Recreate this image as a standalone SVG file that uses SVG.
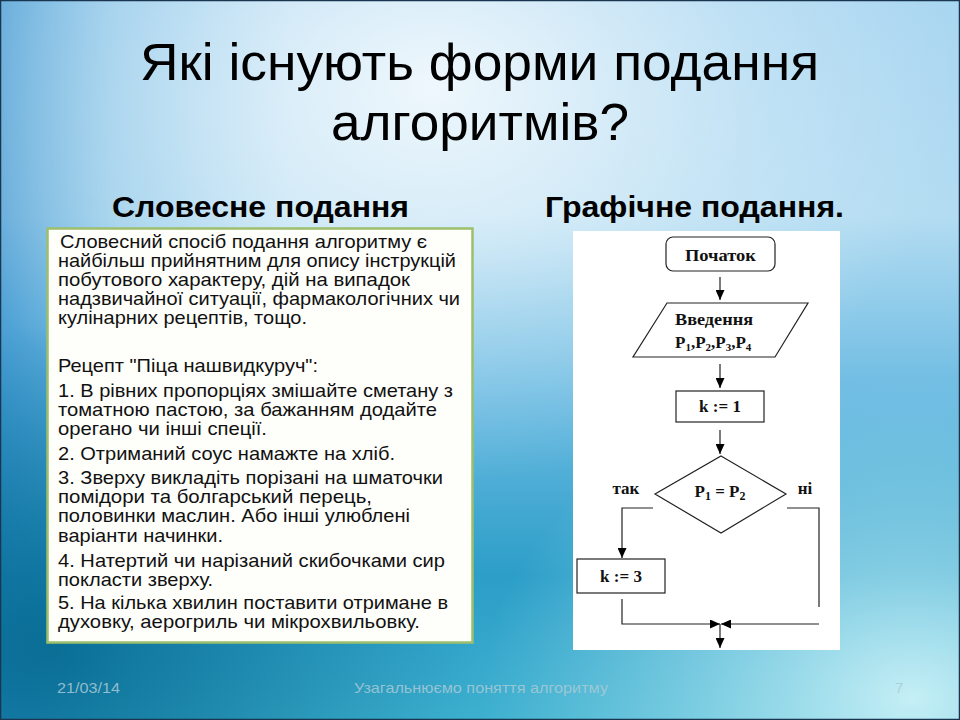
<svg xmlns="http://www.w3.org/2000/svg" width="960" height="720" viewBox="0 0 960 720">
<defs>
<linearGradient id="bgV" x1="0" y1="0" x2="0" y2="1">
<stop offset="0" stop-color="#a9d6f1"/>
<stop offset="0.3" stop-color="#b3dcf2"/>
<stop offset="0.55" stop-color="#6cbbe2"/>
<stop offset="0.8" stop-color="#2c9ec8"/>
<stop offset="1" stop-color="#3db0cf"/>
</linearGradient>
<linearGradient id="bgL" x1="0" y1="0" x2="1" y2="0">
<stop offset="0" stop-color="#1b7fc4" stop-opacity="0.55"/>
<stop offset="0.12" stop-color="#2a8fcc" stop-opacity="0.2"/>
<stop offset="0.3" stop-color="#2a8fcc" stop-opacity="0"/>
</linearGradient>
<radialGradient id="glow" cx="0.45" cy="0.12" r="0.55">
<stop offset="0" stop-color="#ffffff" stop-opacity="0.8"/>
<stop offset="0.6" stop-color="#ffffff" stop-opacity="0.25"/>
<stop offset="1" stop-color="#ffffff" stop-opacity="0"/>
</radialGradient>
<radialGradient id="dark" cx="0.05" cy="0.9" r="0.45">
<stop offset="0" stop-color="#06698f" stop-opacity="0.9"/>
<stop offset="1" stop-color="#06698f" stop-opacity="0"/>
</radialGradient>
<radialGradient id="light" cx="0.95" cy="0.97" r="0.45">
<stop offset="0" stop-color="#d4f6fa" stop-opacity="0.9"/>
<stop offset="1" stop-color="#bdeef6" stop-opacity="0"/>
</radialGradient>
<marker id="ah" viewBox="0 0 10 9" refX="10" refY="4.5" markerWidth="10" markerHeight="9" markerUnits="userSpaceOnUse" orient="auto">
<path d="M0,0 L10,4.5 L0,9 z" fill="#000"/>
</marker>
<style>
.title{font-family:"Liberation Sans Narrow","Liberation Sans",Arial,sans-serif;font-size:52px;fill:#000}
.sub{font-family:"Liberation Sans Narrow","Liberation Sans",Arial,sans-serif;font-size:29px;font-weight:bold;fill:#000}
.body{font-family:"Liberation Sans Narrow","Liberation Sans",Arial,sans-serif;font-size:19px;fill:#111}
.fc{font-family:"Liberation Serif","Times New Roman",serif;font-weight:bold;font-size:17px;fill:#111}
.shape{fill:#fff;stroke:#222;stroke-width:1.2}
.conn{fill:none;stroke:#222;stroke-width:1.2}
.foot{font-family:"Liberation Sans Narrow","Liberation Sans",Arial,sans-serif;font-size:15px;fill:#a9cad6;fill-opacity:0.85}
</style>
</defs>

<g id="background">
<rect x="0" y="0" width="960" height="720" fill="url(#bgV)"/>
<rect x="0" y="0" width="960" height="720" fill="url(#bgL)"/>
<rect x="0" y="0" width="960" height="720" fill="url(#glow)"/>
<rect x="0" y="0" width="960" height="720" fill="url(#dark)"/>
<rect x="0" y="0" width="960" height="720" fill="url(#light)"/>
<rect x="0.5" y="0.5" width="959" height="719" fill="none" stroke="#1a3550" stroke-width="1.5"/>
</g>

<g id="title">
<text class="title" x="140" y="80" textLength="679" lengthAdjust="spacingAndGlyphs">Які існують форми подання</text>
<text class="title" x="331" y="140" textLength="298" lengthAdjust="spacingAndGlyphs">алгоритмів?</text>
</g>

<g id="subheadings">
<text class="sub" x="112" y="217" textLength="297" lengthAdjust="spacingAndGlyphs">Словесне подання</text>
<text class="sub" x="545" y="217" textLength="299" lengthAdjust="spacingAndGlyphs">Графічне подання.</text>
</g>

<g id="verbal-box">
<rect x="47.5" y="228.5" width="425" height="414" fill="#fefefb" stroke="#9dbf6c" stroke-width="2.5"/>
<text class="body" x="60" y="248" textLength="367" lengthAdjust="spacingAndGlyphs">Словесний спосіб подання алгоритму є</text>
<text class="body" x="58" y="267" textLength="398" lengthAdjust="spacingAndGlyphs">найбільш прийнятним для опису інструкцій</text>
<text class="body" x="58" y="286" textLength="352" lengthAdjust="spacingAndGlyphs">побутового характеру, дій на випадок</text>
<text class="body" x="58" y="305" textLength="402" lengthAdjust="spacingAndGlyphs">надзвичайної ситуації, фармакологічних чи</text>
<text class="body" x="58" y="324" textLength="249" lengthAdjust="spacingAndGlyphs">кулінарних рецептів, тощо.</text>
<text class="body" x="58" y="372" textLength="260" lengthAdjust="spacingAndGlyphs">Рецепт "Піца нашвидкуруч":</text>
<text class="body" x="58" y="397" textLength="395" lengthAdjust="spacingAndGlyphs">1. В рівних пропорціях змішайте сметану з</text>
<text class="body" x="58" y="416" textLength="379" lengthAdjust="spacingAndGlyphs">томатною пастою, за бажанням додайте</text>
<text class="body" x="58" y="435" textLength="209" lengthAdjust="spacingAndGlyphs">орегано чи інші спеції.</text>
<text class="body" x="58" y="460" textLength="337" lengthAdjust="spacingAndGlyphs">2. Отриманий соус намажте на хліб.</text>
<text class="body" x="58" y="484" textLength="385" lengthAdjust="spacingAndGlyphs">3. Зверху викладіть порізані на шматочки</text>
<text class="body" x="58" y="503" textLength="314" lengthAdjust="spacingAndGlyphs">помідори та болгарський перець,</text>
<text class="body" x="58" y="522" textLength="352" lengthAdjust="spacingAndGlyphs">половинки маслин. Або інші улюблені</text>
<text class="body" x="58" y="542" textLength="165" lengthAdjust="spacingAndGlyphs">варіанти начинки.</text>
<text class="body" x="58" y="567" textLength="387" lengthAdjust="spacingAndGlyphs">4. Натертий чи нарізаний скибочками сир</text>
<text class="body" x="58" y="586" textLength="155" lengthAdjust="spacingAndGlyphs">покласти зверху.</text>
<text class="body" x="58" y="609" textLength="390" lengthAdjust="spacingAndGlyphs">5. На кілька хвилин поставити отримане в</text>
<text class="body" x="58" y="628" textLength="362" lengthAdjust="spacingAndGlyphs">духовку, аерогриль чи мікрохвильовку.</text>
</g>

<g id="flow-panel">
<rect x="573" y="231" width="267" height="419" fill="#ffffff"/>
</g>

<g id="node-start">
<rect class="shape" x="666" y="237" width="109" height="34" rx="7" ry="7"/>
<text class="fc" x="685" y="261" textLength="71" lengthAdjust="spacingAndGlyphs">Початок</text>
</g>

<g id="node-input">
<polygon class="shape" points="667,303 808,303 775,357 633,357"/>
<text class="fc" x="675" y="325" textLength="78" lengthAdjust="spacingAndGlyphs">Введення</text>
<text class="fc" x="675" y="348">P<tspan font-size="11" dy="3">1</tspan><tspan dy="-3">,P</tspan><tspan font-size="11" dy="3">2</tspan><tspan dy="-3">,P</tspan><tspan font-size="11" dy="3">3</tspan><tspan dy="-3">,P</tspan><tspan font-size="11" dy="3">4</tspan></text>
</g>

<g id="node-k1">
<rect class="shape" x="676" y="391" width="88" height="31"/>
<text class="fc" x="720" y="412" text-anchor="middle" font-size="18">k := 1</text>
</g>

<g id="node-decision">
<polygon class="shape" points="721,456 786,494 721,533 655,494"/>
<text class="fc" x="720" y="497" text-anchor="middle" font-size="18">P<tspan font-size="12" dy="3">1</tspan><tspan dy="-3"> = P</tspan><tspan font-size="12" dy="3">2</tspan></text>
</g>

<g id="label-yes">
<text class="fc" x="626" y="494" text-anchor="middle">так</text>
</g>
<g id="label-no">
<text class="fc" x="805" y="494" text-anchor="middle">ні</text>
</g>

<g id="node-k3">
<rect class="shape" x="577" y="559" width="88" height="34"/>
<text class="fc" x="621" y="582" text-anchor="middle" font-size="18">k := 3</text>
</g>

<g id="connectors">
<path class="conn" d="M720,277 V300" marker-end="url(#ah)"/>
<path class="conn" d="M720,364 V388" marker-end="url(#ah)"/>
<path class="conn" d="M720,430 V454" marker-end="url(#ah)"/>
<path class="conn" d="M653,508 H622 V558" marker-end="url(#ah)"/>
<path class="conn" d="M787,508 H819 V607"/>
<path class="conn" d="M622,599 V624 H720" marker-end="url(#ah)"/>
<path class="conn" d="M819,624 H721" marker-end="url(#ah)"/>
<path class="conn" d="M720,624 V648" marker-end="url(#ah)"/>
</g>

<g id="footer">
<text class="foot" x="57" y="693" textLength="63" lengthAdjust="spacingAndGlyphs">21/03/14</text>
<text class="foot" x="354" y="693" textLength="254" lengthAdjust="spacingAndGlyphs">Узагальнюємо поняття  алгоритму</text>
<text class="foot" x="895" y="693">7</text>
</g>
</svg>
